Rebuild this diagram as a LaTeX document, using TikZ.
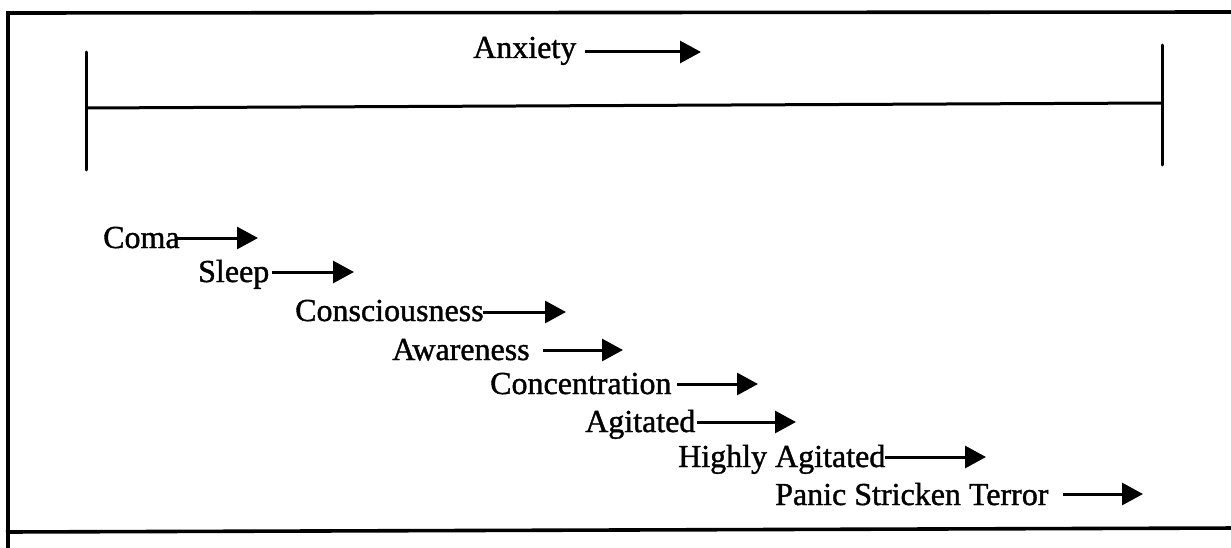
\documentclass[tikz,border=0pt]{standalone}
\usepackage{fontspec}
\setmainfont{Liberation Serif}
\newfontfamily\scanfont{Liberation Serif}[FakeBold=1.2]
\usetikzlibrary{arrows.meta}
\tikzset{
  lbl/.style={anchor=base west, inner sep=0pt, font=\scanfont\fontsize{32}{38}\selectfont},
  arr/.style={line width=3pt, -{Triangle[length=21pt,width=22pt]}},
  frame/.style={line width=3.6pt},
  scale line/.style={line width=3pt, line cap=round}
}
\begin{document}
\begin{tikzpicture}[x=1pt,y=-1pt]
\useasboundingbox (0,0) rectangle (1231,548);
% frame (right side lies outside the picture)
\coordinate (ftl) at (8,13);
\coordinate (ftr) at (1240,12);
\coordinate (fbl) at (8,548);
\coordinate (bl) at (6,532);
\coordinate (br) at (1240,528);
\draw[frame] (ftr) -- (ftl) -- (fbl);
\draw[frame] (bl) -- (br);
% scale
\coordinate (l1) at (86,52);
\coordinate (l2) at (86,170);
\coordinate (r1) at (1162,45);
\coordinate (r2) at (1162,165);
\coordinate (lm) at (86,108);
\coordinate (rm) at (1162,103);
\draw[scale line] (l1) -- (l2);
\draw[scale line] (r1) -- (r2);
\draw[line width=3pt] (lm) -- (rm);
% labels
\node[lbl] (anx) at (473,58) {Anxiety};
\node[lbl] (coma) at (103,248) {Coma};
\node[lbl] (sleep) at (198,282) {Sleep};
\node[lbl] (cons) at (295,321) {Consciousness};
\node[lbl] (aware) at (392,360) {Awareness};
\node[lbl] (conc) at (490,394) {Concentration};
\node[lbl] (agit) at (585,432) {Agitated};
\node[lbl] (high) at (678,467) {Highly Agitated};
\node[lbl] (panic) at (775,505) {Panic Stricken Terror};
% arrow ends
\coordinate (anxS) at (585,52);  \coordinate (anxT) at (701,52);
\coordinate (comaS) at (175,238); \coordinate (comaT) at (258,238);
\coordinate (sleepS) at (272,272); \coordinate (sleepT) at (354,272);
\coordinate (consS) at (483,312); \coordinate (consT) at (566,312);
\coordinate (awareS) at (543,350); \coordinate (awareT) at (623,350);
\coordinate (concS) at (677,384); \coordinate (concT) at (758,384);
\coordinate (agitS) at (697,422); \coordinate (agitT) at (796,422);
\coordinate (highS) at (885,457); \coordinate (highT) at (986,457);
\coordinate (panicS) at (1063,494); \coordinate (panicT) at (1143,494);
\foreach \n in {anx,coma,sleep,cons,aware,conc,agit,high,panic}
  \draw[arr] (\n S) -- (\n T);
\end{tikzpicture}
\end{document}
